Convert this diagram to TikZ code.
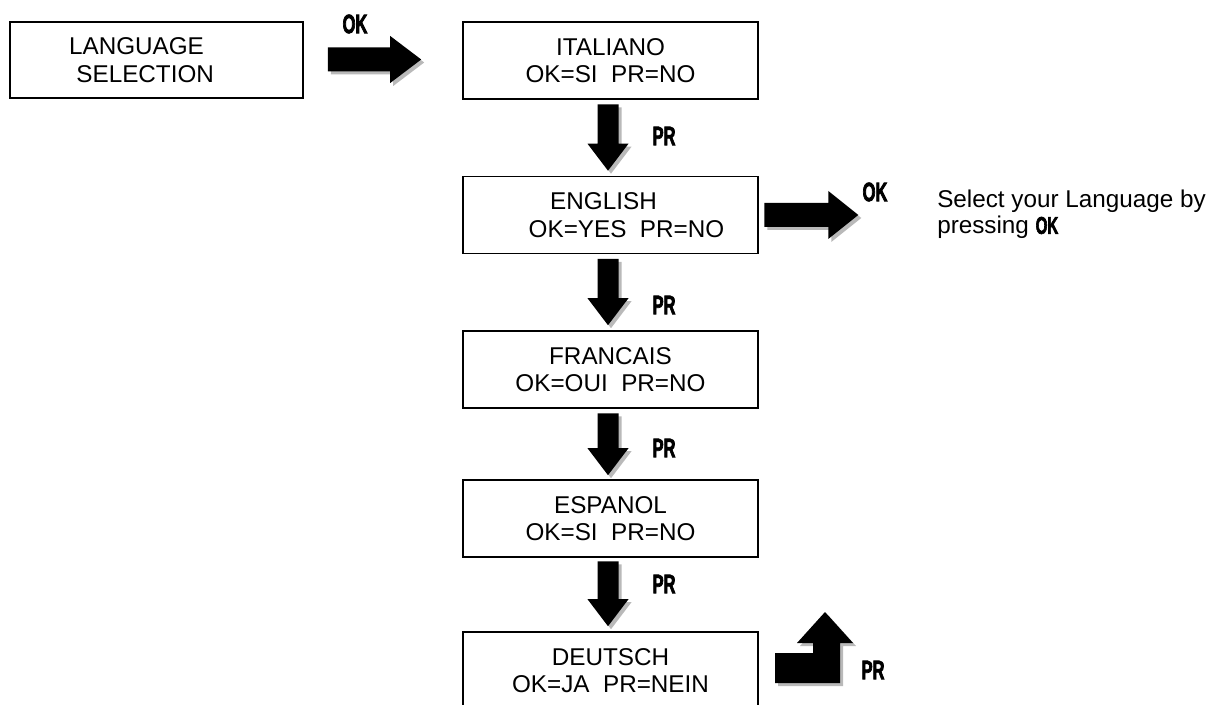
\documentclass[tikz,border=0pt]{standalone}
\usepackage{fontspec}
\setmainfont{Liberation Sans}
\newfontfamily\impact{Liberation Sans Bold}[FakeStretch=0.62, FakeBold=2.5]
\usetikzlibrary{calc,shadows}

\tikzset{
  box/.style={draw, line width=1.2pt, minimum width=221.25pt, minimum height=57.75pt,
    inner sep=0pt, align=center, font=\fontsize{18.2}{20.5}\selectfont},
  key/.style={font=\impact\fontsize{20}{20}\selectfont, inner sep=0pt},
  blk/.style={fill=black, drop shadow={shadow xshift=2.25pt, shadow yshift=-2.25pt,
    fill=gray!55, opacity=1}},
}

% #1 prefix, #2 start coord, #3 tip coord, #4 half shaft, #5 half head, #6 head length
\newcommand\blockarrow[6]{%
  \coordinate (#1-h) at ($(#3)!#6!(#2)$);
  \fill[blk] ($(#2)!#4!90:(#3)$) -- ($(#1-h)!#4!90:(#3)$) -- ($(#1-h)!#5!90:(#3)$) -- (#3)
    -- ($(#1-h)!#5!-90:(#3)$) -- ($(#1-h)!#4!-90:(#3)$) -- ($(#2)!#4!-90:(#3)$) -- cycle;
}

\begin{document}
\begin{tikzpicture}[x=0.75pt, y=-0.75pt]
\path[use as bounding box, clip] (0,0) rectangle (1220,705);

% boxes
\node[box, minimum width=219.75pt, minimum height=57pt] (lang) at (156.5,60)
  {LANGUAGE\hspace*{30pt}\\SELECTION\hspace*{17pt}};
\node[box] (ital) at (610.5,60.5) {ITALIANO\\OK=SI\ \ PR=NO};
\node[box] (eng) at (610.5,215) {ENGLISH\hspace*{10.5pt}\\\hspace*{24pt}OK=YES\ \ PR=NO};
\node[box] (fra) at (610.5,369.5) {FRANCAIS\\OK=OUI\ \ PR=NO};
\node[box] (esp) at (610.5,518.5) {ESPANOL\\OK=SI\ \ PR=NO};
\node[box] (deu) at (610.5,670.5) {DEUTSCH\\OK=JA\ \ PR=NEIN};

% right arrows
\coordinate (r1s) at ($(lang.east)+(24,-0.5)$);
\coordinate (r1t) at ($(ital.west)+(-41,-1)$);
\blockarrow{r1}{r1s}{r1t}{9pt}{17.625pt}{23.25pt}
\coordinate (r2s) at ($(eng.east)+(5.5,0)$);
\coordinate (r2t) at ($(eng.east)+(99.5,0)$);
\blockarrow{r2}{r2s}{r2t}{9pt}{18pt}{22.5pt}

% down arrows
\coordinate (d1s) at ($(ital.south)+(-2.5,4.5)$);
\coordinate (d1t) at ($(eng.north)+(-2.5,-5)$);
\blockarrow{d1}{d1s}{d1t}{7.875pt}{15.375pt}{20.25pt}
\coordinate (d2s) at ($(eng.south)+(-2.5,4.5)$);
\coordinate (d2t) at ($(fra.north)+(-2.5,-5)$);
\blockarrow{d2}{d2s}{d2t}{7.875pt}{15.375pt}{20.25pt}
\coordinate (d3s) at ($(fra.south)+(-2.5,4.5)$);
\coordinate (d3t) at ($(esp.north)+(-2.5,-4)$);
\blockarrow{d3}{d3s}{d3t}{7.875pt}{15.375pt}{20.25pt}
\coordinate (d4s) at ($(esp.south)+(-2.5,3.5)$);
\coordinate (d4t) at ($(deu.north)+(-2.5,-5)$);
\blockarrow{d4}{d4s}{d4t}{7.875pt}{15.375pt}{20.25pt}

% bent return arrow
\fill[blk] (775,653) -- (813,653) -- (813,643) -- (797,643) -- (825,612) -- (853,643)
  -- (840,643) -- (840,683) -- (775,683) -- cycle;

% key labels
\node[key] (ok1) at (355,24) {OK};
\node[key] (pr1) at (664,136) {PR};
\node[key] (ok2) at (875,192) {OK};
\node[key] (pr2) at (664,305) {PR};
\node[key] (pr3) at (664,448) {PR};
\node[key] (pr4) at (664,584) {PR};
\node[key] (pr5) at (873,670) {PR};

% note
\node[font=\fontsize{18.2}{19.5}\selectfont, align=left, anchor=north west, inner sep=0pt]
  (note) at (937,190) {Select your Language by\\pressing {\impact OK}};
\end{tikzpicture}
\end{document}
